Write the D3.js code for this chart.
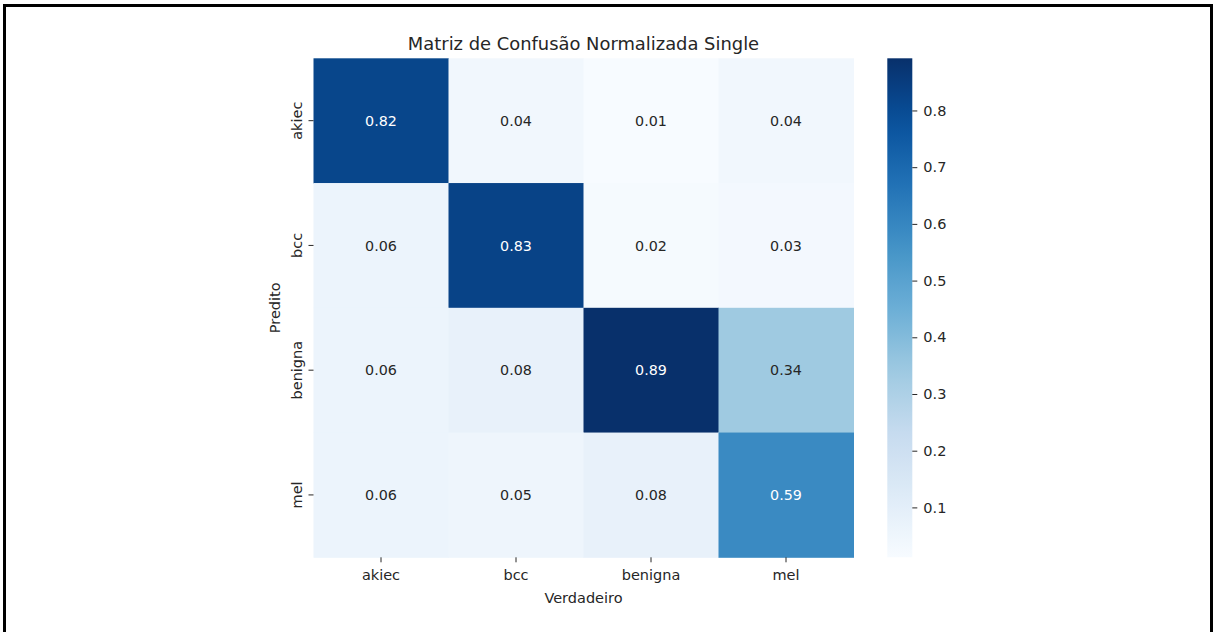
<!DOCTYPE html>
<html>
<head>
<meta charset="utf-8">
<script src="https://cdn.jsdelivr.net/npm/d3@7"></script>
<style>
  body { margin: 0; background: #fff; }
  text { font-family: "DejaVu Sans", sans-serif; }
</style>
</head>
<body>
<div id="chart"></div>
<script>
// confusion matrix data (rows = Predito, cols = Verdadeiro)
var predLabels = ["akiec", "bcc", "benigna", "mel"];
var trueLabels = ["akiec", "bcc", "benigna", "mel"];
var rowAkiec = [0.82, 0.04, 0.012, 0.04];
var rowBcc = [0.06, 0.83, 0.02, 0.03];
var rowBenigna = [0.06, 0.08, 0.892, 0.34];
var rowMel = [0.06, 0.05, 0.08, 0.59];
var cbarTicks = [0.1, 0.2, 0.3, 0.4, 0.5, 0.6, 0.7, 0.8];

var matrix = [rowAkiec, rowBcc, rowBenigna, rowMel];

var width = 1213,
    height = 632;

// heatmap area (note: "top" is a reserved window global, so use hmTop)
var hmLeft = 313.5, hmTop = 58.3, hmW = 540, hmH = 499;
// colorbar area
var cbX = 887.3, cbW = 25;

var svg = d3.select("#chart")
    .append("svg")
    .attr("width", width)
    .attr("height", height);

// black frame round the picture (bottom edge is cut off)
svg.append("rect")
    .attr("x", 4.5).attr("y", 5.5)
    .attr("width", 1207).attr("height", 700)
    .attr("fill", "none")
    .attr("stroke", "#000")
    .attr("stroke-width", 3);

// matplotlib "Blues" = linear segments between the colorbrewer stops
var blues = ["#f7fbff", "#deebf7", "#c6dbef", "#9ecae1", "#6baed6",
             "#4292c6", "#2171b5", "#08519c", "#08306b"];
var flat = d3.merge(matrix);
var vmin = d3.min(flat), vmax = d3.max(flat);
var interp = d3.piecewise(d3.interpolateRgb, blues);
var color = d3.scaleSequential(interp).domain([vmin, vmax]);

var x = d3.scaleBand().domain(trueLabels).range([hmLeft, hmLeft + hmW]);
var y = d3.scaleBand().domain(predLabels).range([hmTop, hmTop + hmH]);

// relative luminance like seaborn does to pick the annotation colour
function lum(c) {
    var rgb = d3.rgb(c);
    var v = [rgb.r, rgb.g, rgb.b].map(function (k) {
        k = k / 255;
        return k <= 0.03928 ? k / 12.92 : Math.pow((k + 0.055) / 1.055, 2.4);
    });
    return 0.2126 * v[0] + 0.7152 * v[1] + 0.0722 * v[2];
}

var cells = [];
matrix.forEach(function (row, i) {
    row.forEach(function (v, j) {
        cells.push({ row: predLabels[i], col: trueLabels[j], value: v });
    });
});

var g = svg.append("g");
g.selectAll("rect")
    .data(cells)
    .enter()
    .append("rect")
    .attr("x", function (d) { return x(d.col); })
    .attr("y", function (d) { return y(d.row); })
    .attr("width", x.bandwidth() + 0.5)
    .attr("height", y.bandwidth() + 0.5)
    .attr("fill", function (d) { return color(d.value); });

g.selectAll("text")
    .data(cells)
    .enter()
    .append("text")
    .attr("x", function (d) { return x(d.col) + x.bandwidth() / 2; })
    .attr("y", function (d) { return y(d.row) + y.bandwidth() / 2; })
    .attr("text-anchor", "middle")
    .attr("dy", "0.36em")
    .style("font-size", "14.3px")
    .attr("fill", function (d) { return lum(color(d.value)) > 0.408 ? "#262626" : "#ffffff"; })
    .text(function (d) { return d.value.toFixed(2); });

// x axis
var xAxis = svg.append("g")
    .attr("transform", "translate(0," + (hmTop + hmH) + ")")
    .call(d3.axisBottom(x).tickSize(5).tickPadding(7));
xAxis.select(".domain").remove();
xAxis.selectAll("line").attr("stroke", "#262626").attr("stroke-width", 1);
xAxis.selectAll("text")
    .style("font-size", "14.5px")
    .style("font-family", "DejaVu Sans")
    .attr("fill", "#262626");

// y axis, labels turned vertical
var yAxis = svg.append("g")
    .attr("transform", "translate(" + hmLeft + ",0)")
    .call(d3.axisLeft(y).tickSize(5));
yAxis.select(".domain").remove();
yAxis.selectAll("line").attr("stroke", "#262626").attr("stroke-width", 1);
yAxis.selectAll("text")
    .attr("x", null).attr("dy", null)
    .attr("transform", "translate(-11.5,0) rotate(-90)")
    .attr("text-anchor", "middle")
    .style("font-size", "14.5px")
    .style("font-family", "DejaVu Sans")
    .attr("fill", "#262626");

// axis titles
svg.append("text")
    .attr("x", hmLeft + hmW / 2)
    .attr("y", 603)
    .attr("text-anchor", "middle")
    .style("font-size", "14.5px")
    .attr("fill", "#262626")
    .text("Verdadeiro");

svg.append("text")
    .attr("transform", "translate(279.5," + (hmTop + hmH / 2) + ") rotate(-90)")
    .attr("text-anchor", "middle")
    .style("font-size", "14.5px")
    .attr("fill", "#262626")
    .text("Predito");

svg.append("text")
    .attr("x", hmLeft + hmW / 2)
    .attr("y", 50)
    .attr("text-anchor", "middle")
    .style("font-size", "17.9px")
    .attr("fill", "#262626")
    .text("Matriz de Confusão Normalizada Single");

// colorbar
var defs = svg.append("defs");
var grad = defs.append("linearGradient")
    .attr("id", "cbar")
    .attr("x1", "0").attr("y1", "1")
    .attr("x2", "0").attr("y2", "0");
d3.range(0, 1.0001, 0.05).forEach(function (t) {
    grad.append("stop")
        .attr("offset", t)
        .attr("stop-color", interp(t));
});
svg.append("rect")
    .attr("x", cbX).attr("y", hmTop)
    .attr("width", cbW).attr("height", hmH)
    .attr("fill", "url(#cbar)");

var cy = d3.scaleLinear().domain([vmin, vmax]).range([hmTop + hmH, hmTop]);
var cAxis = svg.append("g")
    .attr("transform", "translate(" + (cbX + cbW) + ",0)")
    .call(d3.axisRight(cy).tickValues(cbarTicks).tickFormat(d3.format(".1f")).tickSize(5).tickPadding(6));
cAxis.select(".domain").remove();
cAxis.selectAll("line").attr("stroke", "#262626").attr("stroke-width", 1);
cAxis.selectAll("text")
    .style("font-size", "14.5px")
    .style("font-family", "DejaVu Sans")
    .attr("fill", "#262626");
</script>
</body>
</html>
